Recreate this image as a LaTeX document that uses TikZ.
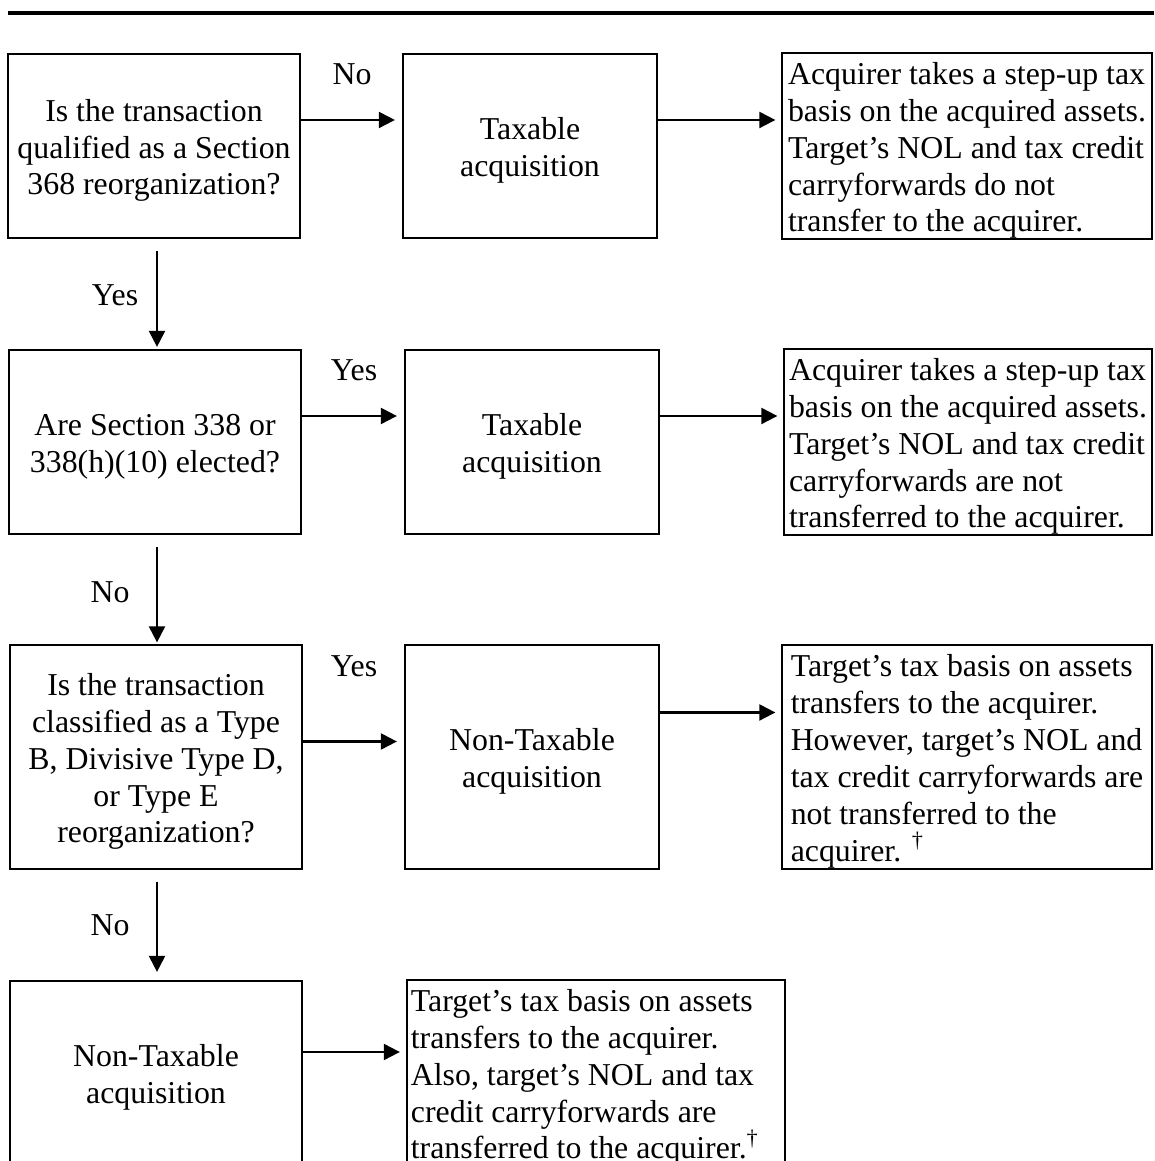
\documentclass[tikz,border=0pt]{standalone}
\usepackage{fontspec}
\setmainfont{Liberation Serif}
\usetikzlibrary{arrows.meta,positioning}
\tikzset{every picture/.style={/utils/exec={\fontsize{9.05pt}{10.5pt}\selectfont}}}
\tikzset{
  qbox/.style={draw, line width=0.6pt, align=center, minimum width=2.92cm, minimum height=1.84cm, inner sep=0pt},
  abox/.style={qbox, minimum width=2.54cm},
  rbox/.style={draw, line width=0.6pt, align=left, minimum width=3.69cm, inner xsep=0.04cm, inner ysep=0pt, minimum height=1.84cm},
  flow/.style={-{Triangle[length=0.16cm,width=0.16cm]}, line width=0.6pt},
  lbl/.style={inner sep=0pt}
}
% pushes the lines of a box a little down
\newcommand{\tstrut}{\rule{0pt}{0.31cm}}

\begin{document}
\begin{tikzpicture}[x=0.01cm,y=-0.01cm]
  \useasboundingbox (0,0) rectangle (1154,1161);
  \clip (0,0) rectangle (1154,1161);

  \draw[line width=1.2pt] (8,13) -- (1154,13);

  % row 1
  \node[qbox] (q1) at (154,146) {\tstrut Is the transaction\\qualified as a Section\\368 reorganization?};
  \node[abox] (acq1) at (530,146) {\tstrut Taxable\\acquisition};
  \node[rbox] (res1) at (967,146) {\tstrut Acquirer takes a step-up tax\\basis on the acquired assets.\\Target’s NOL and tax credit\\carryforwards do not\\transfer to the acquirer.};

  % row 2
  \node[qbox] (q2) at (155,442) {\tstrut Are Section 338 or\\338(h)(10) elected?};
  \node[abox] (acq2) at (532,442) {\tstrut Taxable\\acquisition};
  \node[rbox, minimum width=3.67cm] (res2) at (968,442) {\tstrut Acquirer takes a step-up tax\\basis on the acquired assets.\\Target’s NOL and tax credit\\carryforwards are not\\transferred to the acquirer.};

  % row 3
  \node[qbox, minimum height=2.23cm] (q3) at (156,757) {\tstrut Is the transaction\\classified as a Type\\B, Divisive Type D,\\or Type E\\reorganization?};
  \node[abox, minimum height=2.23cm] (acq3) at (532,757) {\tstrut Non-Taxable\\acquisition};
  \node[rbox, minimum height=2.23cm] (res3) at (967,757) {\tstrut Target’s tax basis on assets\\transfers to the acquirer.\\However, target’s NOL and\\tax credit carryforwards are\\not transferred to the\\acquirer. \textsuperscript{\textdagger}};

  % row 4
  \node[qbox] (acq4) at (156,1073) {\tstrut Non-Taxable\\acquisition};
  \node[rbox, align=flush left, text width=3.70cm] (res4) at (596,1073) {\tstrut Target’s tax basis on assets\\transfers to the acquirer.\\Also, target’s NOL and tax\\credit carryforwards are\\transferred to the acquirer.\textsuperscript{\textdagger}};

  % labels
  \node[lbl] (no1) at (352,74) {No};
  \node[lbl] (yes1) at (115,295) {Yes};
  \node[lbl] (yes2) at (354,370) {Yes};
  \node[lbl] (no2) at (110,592) {No};
  \node[lbl] (yes3) at (354,666) {Yes};
  \node[lbl] (no3) at (110,925) {No};

  % arrows
  \draw[flow, shorten >=0.07cm] ([yshift=0.26cm]q1.east) -- ([yshift=0.26cm]acq1.west);
  \draw[flow, shorten >=0.06cm] ([yshift=0.26cm]acq1.east) -- ([yshift=0.26cm]res1.west);
  \draw[flow, shorten <=0.12cm, shorten >=0.02cm] ([xshift=0.03cm]q1.south) -- ([xshift=0.03cm]q1.south |- q2.north);
  \draw[flow, shorten >=0.07cm] ([yshift=0.26cm]q2.east) -- ([yshift=0.26cm]acq2.west);
  \draw[flow, shorten >=0.06cm] ([yshift=0.26cm]acq2.east) -- ([yshift=0.26cm]res2.west);
  \draw[flow, shorten <=0.12cm, shorten >=0.02cm] ([xshift=0.02cm]q2.south) -- ([xshift=0.02cm]q2.south |- q3.north);
  \draw[flow, shorten >=0.07cm] ([yshift=0.155cm]q3.east) -- ([yshift=0.155cm]acq3.west);
  \draw[flow, shorten >=0.06cm] ([yshift=0.445cm]acq3.east) -- ([yshift=0.445cm]res3.west);
  \draw[flow, shorten <=0.12cm, shorten >=0.08cm] ([xshift=0.01cm]q3.south) -- ([xshift=0.01cm]q3.south |- acq4.north);
  \draw[flow, shorten >=0.06cm] ([yshift=0.21cm]acq4.east) -- ([yshift=0.21cm]res4.west);
\end{tikzpicture}
\end{document}
